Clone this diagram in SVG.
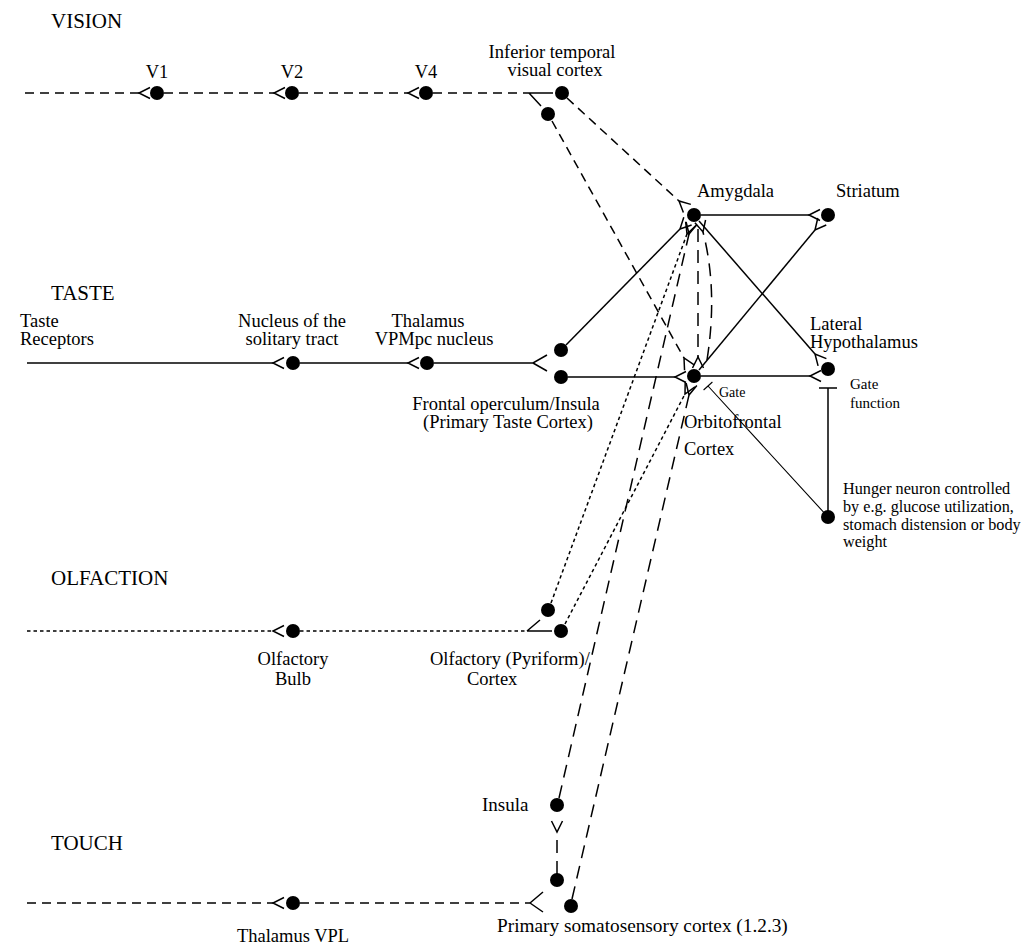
<svg xmlns="http://www.w3.org/2000/svg" width="1021" height="945" viewBox="0 0 1021 945">
<defs>
<style>
text{font-family:"Liberation Serif","Times New Roman",serif;fill:#000;font-size:18.5px}
.sec{font-size:21px}
.sm{font-size:15px}
.xs{font-size:14px}
.hg{font-size:16.2px}
.mid{text-anchor:middle}
.ln{fill:none;stroke:#000;stroke-width:1.5}
.dsh{stroke-dasharray:9 6}
.dot{stroke-dasharray:3.5 3}
.lng{stroke-dasharray:13 8}
.thin{stroke-width:1.1}
.f{marker-end:url(#fork)}
circle{fill:#000}
</style>
<marker id="fork" markerUnits="userSpaceOnUse" markerWidth="14" markerHeight="14" refX="0" refY="7" viewBox="0 0 14 14" orient="auto" overflow="visible">
<path d="M11,1.5 L0,7 L11,12.5" fill="none" stroke="#000" stroke-width="1.5"/>
</marker>
</defs>
<rect width="1021" height="945" fill="#fff"/>

<g id="labels">
<text class="sec" x="51" y="28">VISION</text>
<text class="sec" x="51" y="300">TASTE</text>
<text class="sec" x="51" y="585">OLFACTION</text>
<text class="sec" x="51" y="850">TOUCH</text>
</g>

<g id="connectors">
<!-- vision -->
<path class="ln dsh f" d="M25,93 H139"/>
<path class="ln dsh f" d="M164,93 H274"/>
<path class="ln dsh f" d="M299,93 H408"/>
<path class="ln dsh" d="M433,93 H529"/>
<path class="ln" d="M529,93 H553 M529,93 L541,106"/>
<path class="ln dsh f" d="M567,98 L679,201"/>
<path class="ln dsh f" d="M552,121 L684,358"/>
<!-- taste -->
<path class="ln f" d="M27,363 H273"/>
<path class="ln f" d="M300,363 H408"/>
<path class="ln" d="M434,363 H533 L547,355 M533,363 L547,371"/>
<path class="ln f" d="M566,345 L680,229"/>
<path class="ln f" d="M568,377 H675"/>
<path class="ln f" d="M701,215 H809"/>
<path class="ln f" d="M699,221 L815,354"/>
<path class="ln f" d="M699,370 L815,230"/>
<path class="ln f" d="M701,376 H810"/>
<path class="ln lng f" d="M698,229 V357"/>
<path class="ln lng f" d="M707,360 Q718,290 703,232"/>
<!-- gate -->
<path class="ln" d="M819,388 H837 M828,388 V511"/>
<path class="ln thin" d="M828,517 L708,386 M712.4,382 L703.6,390"/>
<!-- olfaction -->
<path class="ln dot f" d="M27,631 H273"/>
<path class="ln dot" d="M300,631 H527"/>
<path class="ln" d="M527,631 H552 M527,631 L540,620"/>
<path class="ln dot f" d="M551,603 L687,234"/>
<path class="ln dot f" d="M565,624 L685,394"/>
<!-- touch -->
<path class="ln dsh f" d="M27,903 H273"/>
<path class="ln dsh" d="M300,903 H530"/>
<path class="ln" d="M530,903 L543,892 M530,903 L543,912"/>
<path class="ln lng f" d="M559,798 L689,234"/>
<path class="ln lng f" d="M572,899 L689,395"/>
<path class="ln lng f" d="M557,874 V832"/>
</g>

<g id="n-v1"><circle cx="157" cy="93" r="7"/><text class="mid" x="157" y="78">V1</text></g>
<g id="n-v2"><circle cx="292" cy="93" r="7"/><text class="mid" x="292" y="78">V2</text></g>
<g id="n-v4"><circle cx="426" cy="93" r="7"/><text class="mid" x="426" y="78">V4</text></g>
<g id="n-it"><circle cx="562" cy="93" r="7"/><circle cx="548" cy="114" r="7"/><text class="mid" x="552" y="58">Inferior temporal</text><text class="mid" x="555" y="76">visual cortex</text></g>
<g id="n-amygdala"><circle cx="694" cy="215" r="7"/><text x="697" y="197">Amygdala</text></g>
<g id="n-striatum"><circle cx="828" cy="215" r="7"/><text x="836" y="197">Striatum</text></g>
<g id="n-taste-receptors"><text x="20" y="327">Taste</text><text x="20" y="345">Receptors</text></g>
<g id="n-nst"><circle cx="293" cy="363" r="7"/><text class="mid" x="292" y="327">Nucleus of the</text><text class="mid" x="292" y="345">solitary tract</text></g>
<g id="n-vpmpc"><circle cx="427" cy="363" r="7"/><text class="mid" x="428" y="327">Thalamus</text><text class="mid" x="434" y="345">VPMpc nucleus</text></g>
<g id="n-frontal"><circle cx="561" cy="350" r="7"/><circle cx="561" cy="377" r="7"/><text class="mid" x="506" y="410">Frontal operculum/Insula</text><text class="mid" x="508" y="428">(Primary Taste Cortex)</text></g>
<g id="n-ofc"><circle cx="694" cy="376" r="7"/><text class="xs" x="719" y="397">Gate</text><text x="684" y="428">Orbitofrontal</text><text x="684" y="455">Cortex</text></g>
<g id="n-lh"><circle cx="828" cy="369" r="7"/><text x="810" y="330">Lateral</text><text x="810" y="348">Hypothalamus</text><text class="sm" x="850" y="389">Gate</text><text class="sm" x="850" y="408">function</text></g>
<g id="n-hunger"><circle cx="828" cy="517" r="7"/><text class="hg" x="843" y="494">Hunger neuron controlled</text><text class="hg" x="843" y="512">by e.g. glucose utilization,</text><text class="hg" x="843" y="530">stomach distension or body</text><text class="hg" x="843" y="547">weight</text></g>
<g id="n-bulb"><circle cx="293" cy="631" r="7"/><text class="mid" x="293" y="665">Olfactory</text><text class="mid" x="293" y="685">Bulb</text></g>
<g id="n-pyriform"><circle cx="548" cy="610" r="7"/><circle cx="561" cy="631" r="7"/><text x="430" y="665">Olfactory (Pyriform)/</text><text x="467" y="685">Cortex</text></g>
<g id="n-insula"><circle cx="557" cy="805" r="7"/><text x="482" y="811" style="font-size:19px">Insula</text></g>
<g id="n-vpl"><circle cx="293" cy="903" r="7"/><text class="mid" x="293" y="942">Thalamus VPL</text></g>
<g id="n-somato"><circle cx="557" cy="880" r="7"/><circle cx="571" cy="906" r="7"/><text x="497" y="932" style="font-size:19.3px">Primary somatosensory cortex (1.2.3)</text></g>
</svg>
